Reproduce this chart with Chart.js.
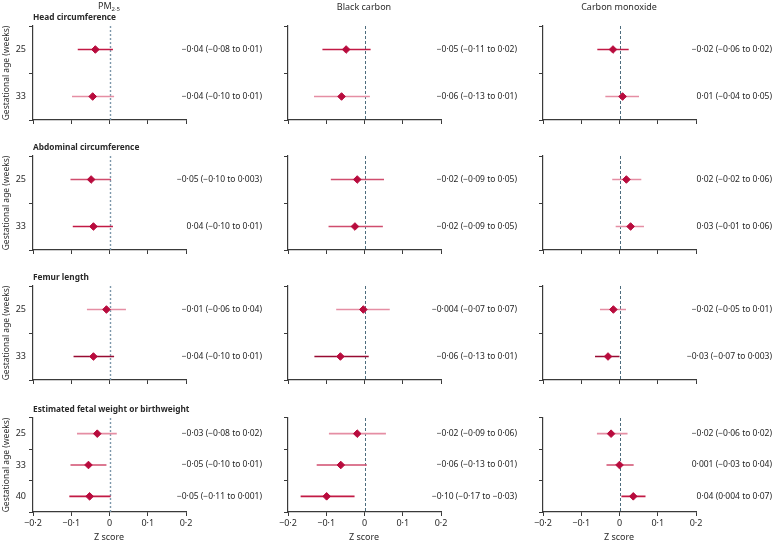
<!DOCTYPE html>
<html><head><meta charset="utf-8">
<script src="https://cdn.jsdelivr.net/npm/chart.js@4.4.1/dist/chart.umd.min.js"></script>
<style>
body{margin:0;width:776px;height:540px;background:#fff;position:relative;overflow:hidden;font-family:"Noto Sans",sans-serif;color:#2a2a2a}
canvas{position:absolute}
.t{position:absolute;white-space:nowrap;line-height:1}
.c{transform:translate(-50%,-50%)}
.l{transform:translate(0,-50%)}
.b{font-weight:bold}
</style></head><body>
<script>
// ---- data ----
const exposures = ['PM', 'Black carbon', 'Carbon monoxide'];
const outcomes = ['Head circumference', 'Abdominal circumference', 'Femur length', 'Estimated fetal weight or birthweight'];
const yTitle = 'Gestational age (weeks)';
const xTitle = 'Z score';
const weeks2 = ['25', '33'];
const weeks3 = ['25', '33', '40'];
const xTicks = [-0.2, -0.1, 0, 0.1, 0.2];
const xTickLabels = ['−0·2', '−0·1', '0', '0·1', '0·2'];

const headEst  = [[-0.037, -0.044], [-0.048, -0.060], [-0.017, 0.008]];
const headLow  = [[-0.083, -0.098], [-0.110, -0.132], [-0.058, -0.037]];
const headHigh = [[0.009, 0.012], [0.016, 0.014], [0.024, 0.051]];
const headText = [['−0·04 (−0·08 to 0·01)', '−0·04 (−0·10 to 0·01)'], ['−0·05 (−0·11 to 0·02)', '−0·06 (−0·13 to 0·01)'], ['−0·02 (−0·06 to 0·02)', '0·01 (−0·04 to 0·05)']];
const headShade = [['c', 'a'], ['c', 'a'], ['c', 'a']];

const abdEst  = [[-0.048, -0.042], [-0.019, -0.025], [0.018, 0.029]];
const abdLow  = [[-0.102, -0.096], [-0.088, -0.094], [-0.019, -0.010]];
const abdHigh = [[0.004, 0.009], [0.051, 0.048], [0.057, 0.064]];
const abdText = [['−0·05 (−0·10 to 0·003)', '0·04 (−0·10 to 0·01)'], ['−0·02 (−0·09 to 0·05)', '−0·02 (−0·09 to 0·05)'], ['0·02 (−0·02 to 0·06)', '0·03 (−0·01 to 0·06)']];
const abdShade = [['b', 'c'], ['b', 'b'], ['a', 'a']];

const femEst  = [[-0.008, -0.042], [-0.003, -0.063], [-0.016, -0.030]];
const femLow  = [[-0.059, -0.094], [-0.074, -0.131], [-0.051, -0.064]];
const femHigh = [[0.043, 0.012], [0.066, 0.011], [0.017, 0.000]];
const femText = [['−0·01 (−0·06 to 0·04)', '−0·04 (−0·10 to 0·01)'], ['−0·004 (−0·07 to 0·07)', '−0·06 (−0·13 to 0·01)'], ['−0·02 (−0·05 to 0·01)', '−0·03 (−0·07 to 0·003)']];
const femShade = [['a', 'd'], ['a', 'd'], ['a', 'd']];

const efwEst  = [[-0.032, -0.055, -0.052], [-0.019, -0.062, -0.099], [-0.022, 0.000, 0.036]];
const efwLow  = [[-0.085, -0.102, -0.105], [-0.093, -0.125, -0.167], [-0.059, -0.034, 0.005]];
const efwHigh = [[0.019, -0.008, 0.003], [0.056, 0.006, -0.026], [0.021, 0.037, 0.068]];
const efwText = [['−0·03 (−0·08 to 0·02)', '−0·05 (−0·10 to 0·01)', '−0·05 (−0·11 to 0·001)'], ['−0·02 (−0·09 to 0·06)', '−0·06 (−0·13 to 0·01)', '−0·10 (−0·17 to −0·03)'], ['−0·02 (−0·06 to 0·02)', '0·001 (−0·03 to 0·04)', '0·04 (0·004 to 0·07)']];
const efwShade = [['a', 'b', 'c'], ['a', 'b', 'c'], ['a', 'b', 'c']];

// ---- assembly ----
const rowsData = [
  {weeks: weeks2, est: headEst, lo: headLow, hi: headHigh, txt: headText, sh: headShade},
  {weeks: weeks2, est: abdEst, lo: abdLow, hi: abdHigh, txt: abdText, sh: abdShade},
  {weeks: weeks2, est: femEst, lo: femLow, hi: femHigh, txt: femText, sh: femShade},
  {weeks: weeks3, est: efwEst, lo: efwLow, hi: efwHigh, txt: efwText, sh: efwShade}
];
const shadeColor = {a: '#e58ea4', b: '#d04d6e', c: '#c21a45', d: '#980b32'};
const dotColor = '#b80b3d';
const axisColor = '#3a3a3a';
const FONT = '"Noto Sans", sans-serif';

const colX = [33, 288, 543];
const rowTop = [26, 156, 286, 418];
const rowBot = [120, 250, 380, 512];
const PT = 10, PB = 4, CW = 265;

function addText(html, x, y, cls, size) {
  const d = document.createElement('div');
  d.className = 't ' + cls;
  d.style.left = x + 'px'; d.style.top = y + 'px';
  d.style.fontSize = size + 'px';
  d.innerHTML = html;
  document.body.appendChild(d);
}

const zeroLine = {
  id: 'zeroLine',
  beforeDatasetsDraw(chart, args, opts) {
    const {ctx, chartArea} = chart;
    const x = Math.round(chart.scales.x.getPixelForValue(0)) + 0.5;
    ctx.save();
    ctx.strokeStyle = opts.color; ctx.lineWidth = opts.width;
    ctx.setLineDash(opts.dash);
    ctx.beginPath(); ctx.moveTo(x, chartArea.top); ctx.lineTo(x, chartArea.bottom); ctx.stroke();
    ctx.restore();
  }
};
const sideText = {
  id: 'sideText',
  afterDraw(chart, args, opts) {
    const {ctx} = chart;
    const ys = chart.scales.y;
    ctx.save();
    ctx.font = '8.5px ' + FONT; ctx.fillStyle = '#262626';
    ctx.textAlign = 'right'; ctx.textBaseline = 'middle';
    opts.texts.forEach((t, i) => ctx.fillText(t, chart.width - 3, ys.getPixelForValue(i)));
    ctx.restore();
  }
};

rowsData.forEach((rd, r) => {
  const last = r === 3;
  const xh = last ? 20 : 6;
  for (let c = 0; c < 3; c++) {
    const cv = document.createElement('canvas');
    const h = PT + (rowBot[r] - rowTop[r]) + xh + PB;
    cv.style.left = (colX[c] - 33) + 'px';
    cv.style.top = (rowTop[r] - PT) + 'px';
    cv.style.width = CW + 'px'; cv.style.height = h + 'px';
    cv.width = CW; cv.height = h;
    document.body.appendChild(cv);
    const datasets = [{
      data: rd.weeks.map((w, i) => ({x: rd.est[c][i], y: w})),
      pointStyle: 'rectRot', pointRadius: 3.8, pointBorderWidth: 1,
      backgroundColor: dotColor, borderColor: dotColor, showLine: false, order: 0
    }];
    rd.weeks.forEach((w, i) => {
      datasets.push({
        data: [{x: rd.lo[c][i], y: w}, {x: rd.hi[c][i], y: w}],
        showLine: true, pointRadius: 0, borderWidth: 1.6,
        borderColor: shadeColor[rd.sh[c][i]], order: 1
      });
    });
    new Chart(cv, {
      type: 'scatter',
      data: {datasets},
      options: {
        responsive: false, animation: false, devicePixelRatio: 1,
        layout: {padding: {top: PT, bottom: PB, left: 0, right: CW - 33 - 153}},
        plugins: {
          legend: {display: false}, tooltip: {enabled: false},
          zeroLine: c === 0 ? {color: '#7d98ab', width: 1.4, dash: [2, 2]} : {color: '#4d6c7d', width: 1, dash: [3, 2]},
          sideText: {texts: rd.txt[c]}
        },
        scales: {
          x: {
            type: 'linear', min: -0.2, max: 0.2,
            afterBuildTicks: s => { s.ticks = xTicks.map(v => ({value: v})); },
            afterFit: s => { s.height = xh; },
            border: {display: true, color: axisColor, width: 1.2},
            grid: {display: true, drawOnChartArea: false, drawTicks: true, tickLength: 4, color: axisColor, lineWidth: 1},
            ticks: {
              display: last, padding: 2, color: '#2a2a2a', font: {family: FONT, size: 9},
              callback: v => { const k = xTicks.findIndex(t => Math.abs(t - v) < 1e-9); return k >= 0 ? xTickLabels[k] : ''; }
            }
          },
          y: {
            type: 'category', labels: rd.weeks, offset: true,
            afterFit: s => { s.width = 33; },
            border: {display: true, color: axisColor, width: 1.2},
            grid: {display: true, offset: true, drawOnChartArea: false, drawTicks: true, tickLength: 4, color: axisColor, lineWidth: 1},
            ticks: {display: c === 0, padding: 3, color: '#2a2a2a', font: {family: FONT, size: 9}},
            title: {display: c === 0, text: yTitle, color: '#2a2a2a', font: {family: FONT, size: 8.5}, padding: {top: 1, bottom: 0}}
          }
        }
      },
      plugins: [zeroLine, sideText]
    });
  }
  addText(outcomes[r], 33, rowTop[r] - 9, 'l b', 8.3);
});

// column headers and x titles
addText('PM<sub style="font-size:6px;vertical-align:-2px">2·5</sub>', 109, 6, 'c', 9);
addText(exposures[1], 364, 6, 'c', 9);
addText(exposures[2], 619, 6, 'c', 9);
[109, 364, 619].forEach(x => addText(xTitle, x, 536, 'c', 9));
</script>
</body></html>
